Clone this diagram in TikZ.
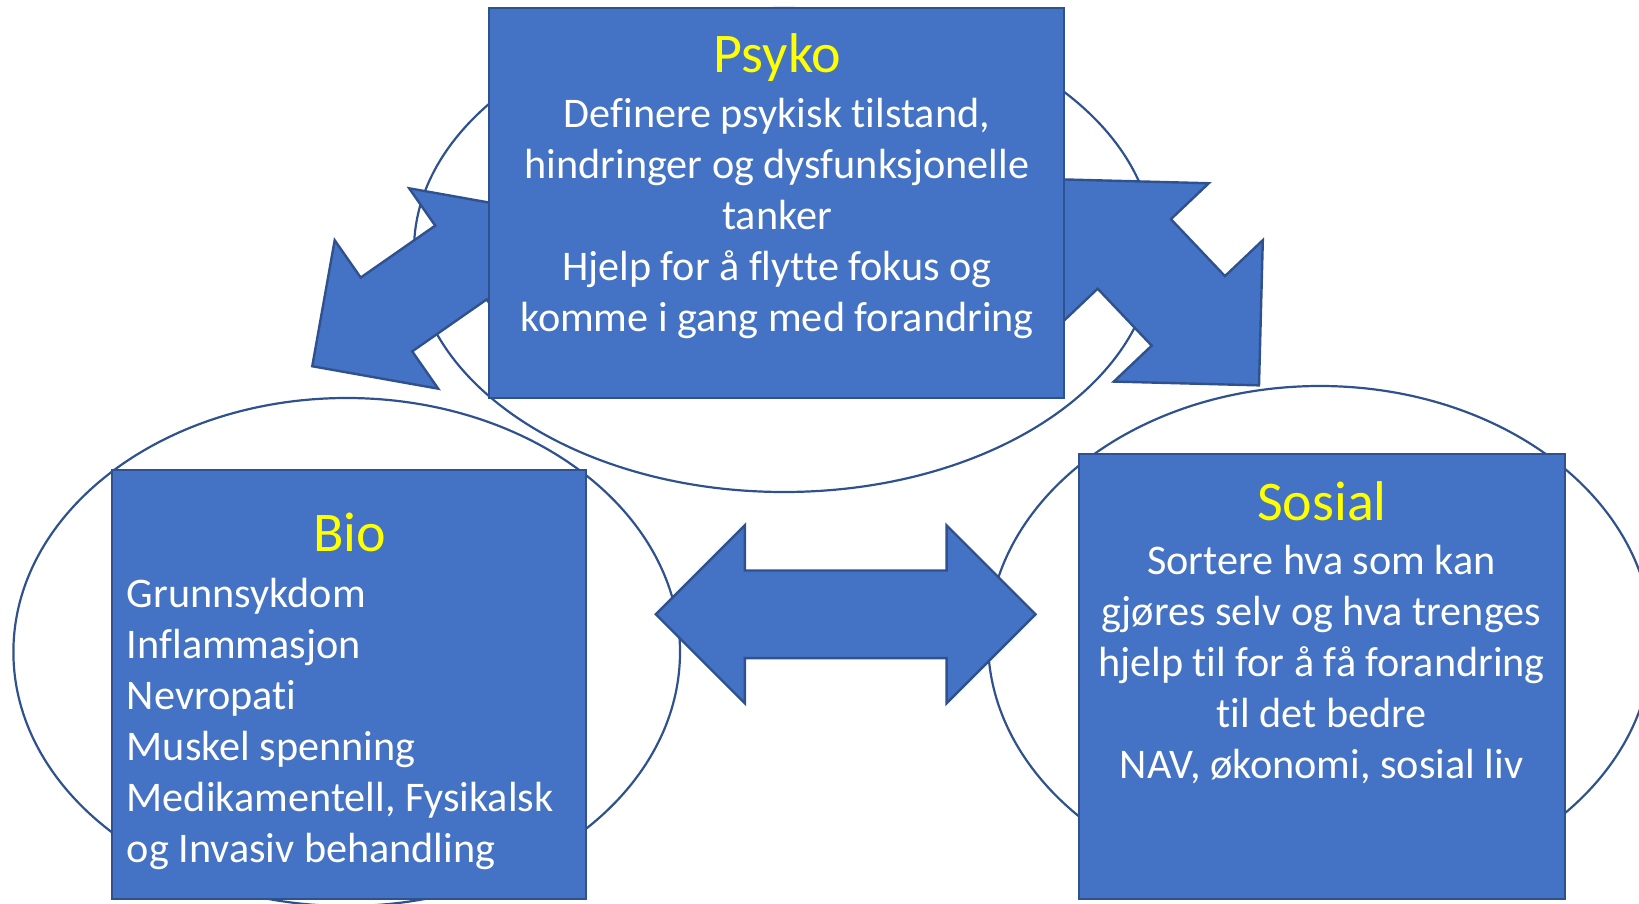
\documentclass[tikz,border=0pt]{standalone}
\usepackage{fontspec}
\setmainfont{Carlito}[Ligatures={CommonOff}]
\definecolor{fillblue}{HTML}{4472C4}
\definecolor{edgeblue}{HTML}{2F528F}
\definecolor{titleyellow}{HTML}{FFFF00}
\newcommand{\dblarrow}[6]{%
  \begin{scope}[shift={(#1,#2)}, rotate=#3]
    \draw[blockarrow] (-#4-#6,0) -- (-#4,#6) -- (-#4,#5) -- (#4,#5) -- (#4,#6) -- (#4+#6,0)
      -- (#4,-#6) -- (#4,-#5) -- (-#4,-#5) -- (-#4,-#6) -- cycle;
  \end{scope}}
\begin{document}
\begin{tikzpicture}[x=0.5pt,y=-0.5pt,
  ring/.style={draw=edgeblue, line width=1.1pt},
  blockarrow/.style={fill=fillblue, draw=edgeblue, line width=1.2pt, line join=miter},
  box/.style={rectangle, fill=fillblue, draw=edgeblue, line width=1.2pt, inner sep=0pt, outer sep=0pt},
  titletext/.style={text=titleyellow, font=\fontsize{28}{34}\selectfont, inner sep=0pt, anchor=base},
  bodytext/.style={text=white, font=\fontsize{21.1}{25.5}\selectfont, inner sep=0pt}
]
\useasboundingbox (0,0) rectangle (1639,904);

% ellipses
\draw[ring] (784,250) ellipse [x radius=370, y radius=242];
\draw[ring] (346.7,652) ellipse [x radius=333.3, y radius=254];
\draw[ring] (1320,641) ellipse [x radius=332, y radius=255];

% block arrows
\dblarrow{423.7}{288.5}{34.9}{45.4}{45}{90.5}
\dblarrow{1161.3}{282.4}{-46.5}{39.25}{50.5}{102.7}
\dblarrow{845.7}{614.3}{0}{100.85}{43.8}{89}

% boxes
\node[box, minimum width=287.5pt, minimum height=195pt] (psybox) at (776.5,203) {};
\node[box, minimum width=237pt, minimum height=214.5pt] (biobox) at (349,684.5) {};
\node[box, minimum width=243pt, minimum height=222.5pt] (sosbox) at (1322,676.5) {};

% titles
\node[titletext] (psytitle) at (777.5,73) {Psyko};
\node[titletext] (biotitle) at (349.5,551.5) {Bio};
\node[titletext] (sostitle) at (1322,520.5) {Sosial};

% texts
\node[bodytext, align=center] (psytext) at (777,219.5)
  {\strut Definere psykisk tilstand,\\ \strut hindringer og dysfunksjonelle\\ \strut tanker\\
   \strut Hjelp for å flytte fokus og\\ \strut komme i gang med forandring};
\node[bodytext, align=left, anchor=west] (biotext) at (126.5,724.5)
  {\strut Grunnsykdom\\ \strut Inflammasjon\\ \strut Nevropati\\ \strut Muskel spenning\\
   \strut Medikamentell, Fysikalsk\\ \strut og Invasiv behandling};
\node[bodytext, align=center] (sostext) at (1321.5,666.5)
  {\strut Sortere hva som kan\\ \strut gjøres selv og hva trenges\\ \strut hjelp til for å få forandring\\
   \strut til det bedre\\ \strut NAV, økonomi, sosial liv};
\end{tikzpicture}
\end{document}
